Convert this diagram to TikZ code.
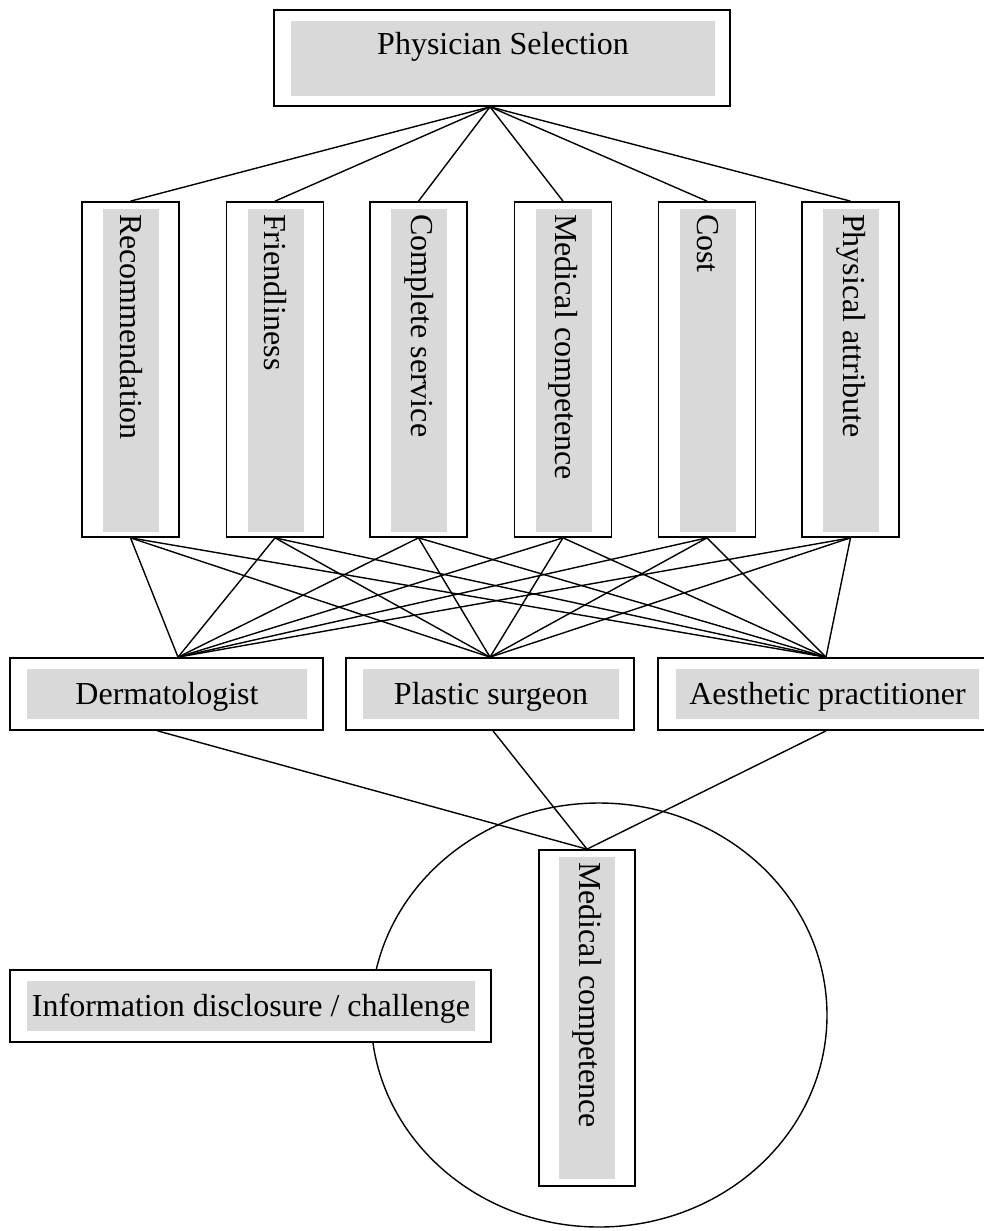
\documentclass[tikz,border=0pt]{standalone}
\usepackage{fontspec}
\setmainfont{Liberation Serif}
\usetikzlibrary{calc}
\definecolor{boxgray}{RGB}{217,217,217}
\begin{document}
\begin{tikzpicture}[x=1pt,y=-1pt,
  outerbox/.style={draw, line width=1.7pt, fill=white, inner sep=0pt, rectangle},
  graybox/.style={fill=boxgray, draw=none, inner sep=0pt, rectangle},
  conn/.style={line width=1.4pt},
  lbl/.style={inner sep=0pt, font=\fontsize{32}{38}\selectfont},
  vlbl/.style={lbl, rotate=-90, anchor=west},
  vouter/.style={outerbox, minimum width=97pt, minimum height=335pt},
  vgray/.style={graybox, minimum width=56pt, minimum height=323pt}]
\useasboundingbox (0,0) rectangle (984,1231);
\clip (0,0) rectangle (984,1231);

% circle
\draw[line width=1.4pt] (599,1015) ellipse [x radius=228, y radius=212];

% top box
\node[outerbox, minimum width=456pt, minimum height=96pt] (top) at (502,58) {};
% vertical boxes
\node[vouter] (rec) at (130.5,369.5) {};
\node[vouter] (fri) at (275,369.5) {};
\node[vouter] (com) at (418.5,369.5) {};
\node[vouter] (med) at (563,369.5) {};
\node[vouter] (cost) at (707,369.5) {};
\node[vouter] (phy) at (850.5,369.5) {};
% lower boxes
\node[outerbox, minimum width=313pt, minimum height=72pt] (der) at (166.5,694) {};
\node[outerbox, minimum width=288pt, minimum height=72pt] (pls) at (490,694) {};
\node[outerbox, minimum width=338pt, minimum height=72pt] (aes) at (827,694) {};
% bottom vertical box
\node[outerbox, minimum width=96pt, minimum height=336pt] (mc) at (587,1018) {};

% connectors top -> criteria
\coordinate (apex) at ($(top.south)+(-12,0)$);
\foreach \n in {rec,fri,com,med,cost,phy} \draw[conn] (apex) -- (\n.north);
% criteria -> physicians
\coordinate (derT) at ($(der.north)+(11.5,0)$);
\coordinate (plsT) at (pls.north);
\coordinate (aesT) at ($(aes.north)+(-1,0)$);
\foreach \n in {rec,fri,com,med,cost,phy}
  \foreach \m in {derT,plsT,aesT}
    \draw[conn] (\n.south) -- (\m);
% physicians -> medical competence
\draw[conn] ($(der.south)+(-9,0)$) -- (mc.north);
\draw[conn] ($(pls.south)+(3,0)$) -- (mc.north);
\draw[conn] ($(aes.south)+(-1,0)$) -- (mc.north);

% redraw boxes on top of connectors
\node[outerbox, minimum width=456pt, minimum height=96pt] at (top) {};
\foreach \n in {rec,fri,com,med,cost,phy} \node[vouter] at (\n) {};
\node[outerbox, minimum width=313pt, minimum height=72pt] at (der) {};
\node[outerbox, minimum width=288pt, minimum height=72pt] at (pls) {};
\node[outerbox, minimum width=338pt, minimum height=72pt] at (aes) {};
\node[outerbox, minimum width=96pt, minimum height=336pt] at (mc) {};

% info box
\node[outerbox, minimum width=481pt, minimum height=72pt] (info) at (250.5,1006) {};

% gray fills
\node[graybox, minimum width=424pt, minimum height=75pt] (topg) at (503,58.5) {};
\foreach \n in {rec,fri,com,med,cost,phy} \node[vgray] (\n g) at ($(\n)+(0.5,1)$) {};
\node[graybox, minimum width=280pt, minimum height=50pt] (derg) at (167,694) {};
\node[graybox, minimum width=256pt, minimum height=50pt] (plsg) at (491,694) {};
\node[graybox, minimum width=303pt, minimum height=50pt] (aesg) at (827.5,694) {};
\node[graybox, minimum width=56pt, minimum height=322pt] (mcg) at (587,1018) {};
\node[graybox, minimum width=448pt, minimum height=50pt] (infog) at (251,1006) {};

% labels
\node[lbl, anchor=base] (topt) at (503,55) {Physician Selection};
\node[vlbl] (rect) at (131,214) {Recommendation};
\node[vlbl] (frit) at (275.5,214) {Friendliness};
\node[vlbl] (comt) at (419,214) {Complete service};
\node[vlbl] (medt) at (563.5,214) {Medical competence};
\node[vlbl] (costt) at (707.5,214) {Cost};
\node[vlbl] (phyt) at (851,214) {Physical attribute};
\node[lbl, anchor=base] (dert) at (167,704) {Dermatologist};
\node[lbl, anchor=base] (plst) at (491,704) {Plastic surgeon};
\node[lbl, anchor=base] (aest) at (827.5,704) {Aesthetic practitioner};
\node[vlbl] (mct) at (587,862) {Medical competence};
\node[lbl, anchor=base] (infot) at (251,1016) {Information disclosure / challenge};
\end{tikzpicture}
\end{document}
